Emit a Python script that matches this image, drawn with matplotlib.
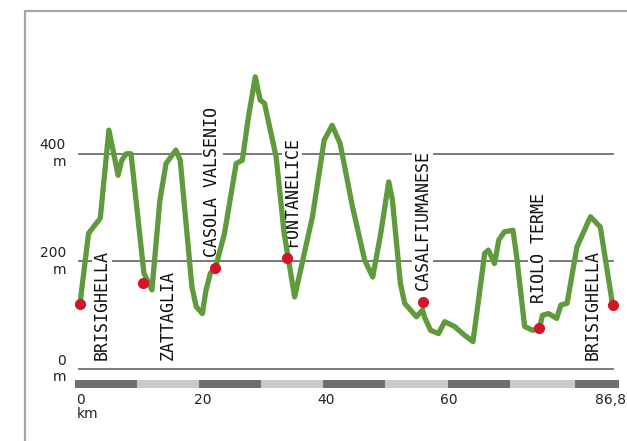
import matplotlib
matplotlib.use('Agg')
import matplotlib.pyplot as plt
from matplotlib.patches import Rectangle

# Elevation profile (km, m)
km = [0, 1.4, 2.6, 3.3, 4.7, 5.5, 6.2, 6.8, 7.5, 8.3, 10.4, 11.7, 13.0, 14.0,
      15.6, 16.3, 18.2, 18.9, 19.9, 20.5, 21.2, 22.0, 23.5, 25.4, 26.4, 27.4,
      28.5, 29.3, 30.0, 31.9, 33.2, 34.9, 37.8, 39.7, 41.0, 42.3, 44.3, 46.3,
      47.6, 48.9, 50.2, 50.8, 52.1, 52.8, 54.7, 55.7, 56.0, 57.0, 58.3, 59.3,
      60.9, 62.5, 63.9, 64.8, 65.8, 66.4, 67.4, 68.1, 69.0, 70.4, 71.0, 72.3,
      73.6, 74.7, 75.2, 76.2, 77.5, 78.2, 79.2, 80.8, 83.0, 84.6, 86.3, 86.6]
elev = [121, 252, 270, 280, 444, 400, 360, 388, 400, 400, 178, 147, 314, 382,
        407, 388, 153, 116, 103, 147, 178, 187, 252, 382, 388, 469,
        543, 500, 494, 394, 252, 134, 283, 425, 453, 419, 302, 202,
        171, 252, 348, 314, 159, 122, 97, 110, 97, 72, 66, 88,
        79, 63, 51, 128, 215, 221, 196, 240, 255, 258, 209, 79,
        72, 76, 100, 103, 94, 119, 122, 227, 283, 264, 141, 119]

# Towns: red dots and labels
town_names = ['BRISIGHELLA', 'ZATTAGLIA', 'CASOLA VALSENIO', 'FONTANELICE',
              'CASALFIUMANESE', 'RIOLO TERME', 'BRISIGHELLA']
town_km = [0, 10.2, 22.0, 33.6, 55.7, 74.7, 86.6]
town_elev = [121, 159, 187, 207, 125, 76, 119]
label_km = [3.6, 14.3, 21.5, 34.5, 55.7, 74.6, 83.4]
label_base = [17, 17, 209, 227, 147, 122, 17]

elev_ticks = [0, 200, 400]
km_ticks = [0, 20, 40, 60, 86.8]
km_labels = ['0', '20', '40', '60', '86,8']

green = '#5f9a3c'
red = '#d3142b'

fig = plt.figure(figsize=(6.27, 4.41), dpi=100)
ax = fig.add_axes([0, 0, 1, 1])
ax.set_xlim(-13.0, 88.94)
ax.set_ylim(-133.8, 685.9)
ax.axis('off')

# frame
ax.plot([0.04, 0.04, 1.0], [0.0, 0.975, 0.975], color='#a3aa9c', lw=1.6,
        transform=ax.transAxes, clip_on=False)

# horizontal reference lines and labels
for e in elev_ticks:
    ax.plot([-0.2, 86.7], [e, e], color='#6e6e6e', lw=1.3, zorder=1)
    ax.text(-2.3, e, f'{e}\nm', ha='right', va='center', multialignment='right',
            fontsize=10, color='#222222', linespacing=1.25)

# scale bar
edges = [-0.85, 9.3, 19.4, 29.5, 39.5, 49.6, 59.9, 69.9, 80.5, 87.6]
for i in range(len(edges) - 1):
    c = '#6f6f6f' if i % 2 == 0 else '#c9c9c9'
    ax.add_patch(Rectangle((edges[i], -35.3), edges[i + 1] - edges[i], 14.9,
                           facecolor=c, edgecolor='none'))

for k, lab in zip(km_ticks, km_labels):
    if k == 0:
        ax.text(-0.6, -71.5, '0\nkm', ha='left', va='center', multialignment='left',
                fontsize=10, color='#222222', linespacing=1.0)
    elif k == km_ticks[-1]:
        ax.text(88.8, -57.6, lab, ha='right', va='center', fontsize=10,
                color='#222222')
    else:
        ax.text(k, -57.6, lab, ha='center', va='center', fontsize=10,
                color='#222222')

# town labels
for name, x, y in zip(town_names, label_km, label_base):
    ax.text(x, y, name, rotation=90, ha='center', va='bottom',
            fontsize=12, family='DejaVu Sans Mono', color='#111111',
            bbox=dict(facecolor='white', edgecolor='none', pad=1), zorder=2)

# profile
ax.plot(km, elev, color=green, lw=3.8, solid_joinstyle='round', zorder=3)
ax.plot(town_km, town_elev, 'o', color=red, ms=7, zorder=4)

fig.savefig('out.png', dpi=100)
